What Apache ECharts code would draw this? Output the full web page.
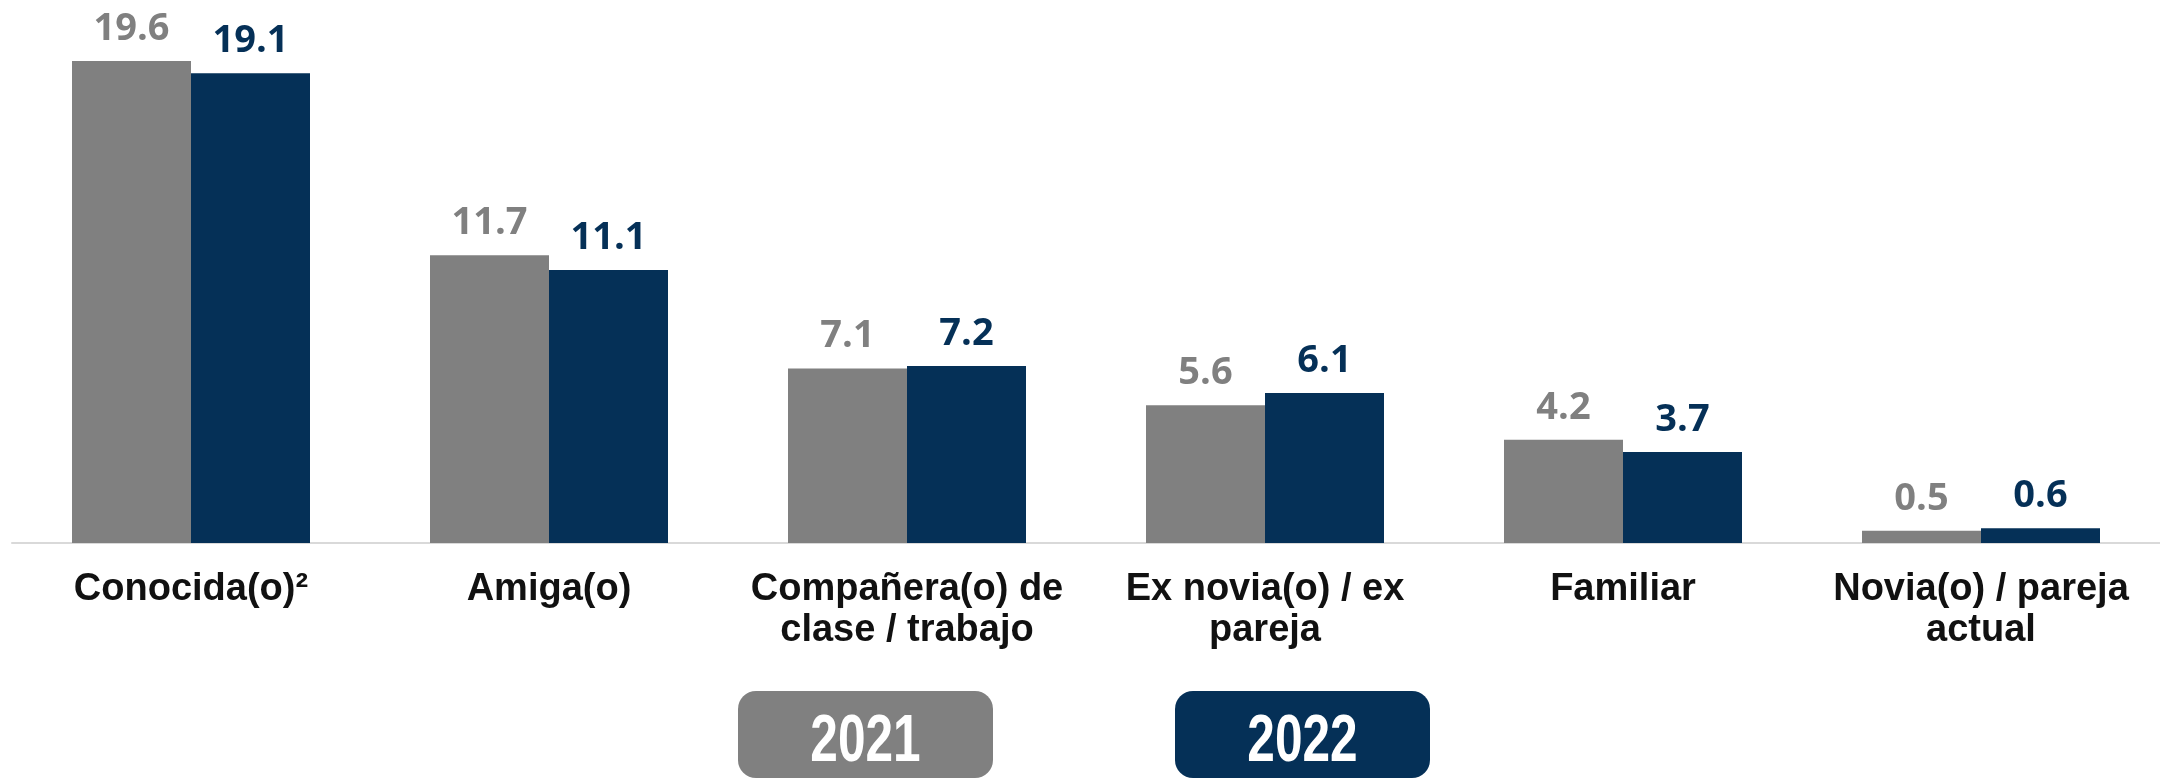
<!DOCTYPE html>
<html>
<head>
<meta charset="utf-8">
<style>
  html, body { margin: 0; padding: 0; background: #ffffff; }
  #chart { width: 2160px; height: 780px; }
</style>
<script src="https://cdn.jsdelivr.net/npm/echarts@6/dist/echarts.min.js"></script>
</head>
<body>
<div id="chart"></div>
<script>
// Relationship categories (x axis)
const categories = [
  'Conocida(o)²',
  'Amiga(o)',
  'Compañera(o) de\nclase / trabajo',
  'Ex novia(o) / ex\npareja',
  'Familiar',
  'Novia(o) / pareja\nactual'
];
// Series names, as shown in the legend badges
const yearNames = ['2021', '2022'];
// Percentages per year
const values2021 = [19.6, 11.7, 7.1, 5.6, 4.2, 0.5];
const values2022 = [19.1, 11.1, 7.2, 6.1, 3.7, 0.6];

const GRAY = '#808080';
const NAVY = '#053057';
const colors = [GRAY, NAVY];

const chart = echarts.init(document.getElementById('chart'), null, { renderer: 'canvas' });

function barSeries(name, data, color) {
  return {
    name: name,
    type: 'bar',
    data: data,
    barWidth: 119,
    barGap: '0%',
    itemStyle: { color: color },
    label: {
      show: true,
      position: 'top',
      distance: 13,
      color: color,
      fontFamily: 'Open Sans',
      fontWeight: 'bold',
      fontSize: 38,
      formatter: p => p.value.toFixed(1)
    }
  };
}

// Legend badges: rounded boxes with the year inside
const badgeX = [738, 1175];
const badgeW = 255;
const legendGraphics = [];
yearNames.forEach((name, i) => {
  legendGraphics.push({
    type: 'rect',
    shape: { x: badgeX[i], y: 691, width: badgeW, height: 87, r: 18 },
    style: { fill: colors[i] }
  });
  legendGraphics.push({
    type: 'text',
    x: badgeX[i] + badgeW / 2,
    y: 743,
    scaleX: 0.74,
    style: {
      text: name,
      fill: '#ffffff',
      font: 'bold 67px "Liberation Sans", Arial, sans-serif',
      align: 'center',
      verticalAlign: 'middle'
    }
  });
});

chart.setOption({
  animation: false,
  backgroundColor: '#ffffff',
  grid: { left: 12, right: 0, top: 2, bottom: 237, containLabel: false },
  xAxis: {
    type: 'category',
    data: categories,
    axisLine: { show: true, lineStyle: { color: '#d9d9d9', width: 2 } },
    axisTick: { show: false },
    axisLabel: {
      interval: 0,
      margin: 26,
      color: '#111111',
      fontFamily: '"Liberation Sans", Arial, sans-serif',
      fontWeight: 'bold',
      fontSize: 38,
      lineHeight: 41
    }
  },
  yAxis: {
    type: 'value',
    min: 0,
    max: 22,
    show: false,
    splitLine: { show: false }
  },
  series: [
    barSeries(yearNames[0], values2021, GRAY),
    barSeries(yearNames[1], values2022, NAVY)
  ],
  graphic: legendGraphics
});
</script>
</body>
</html>
